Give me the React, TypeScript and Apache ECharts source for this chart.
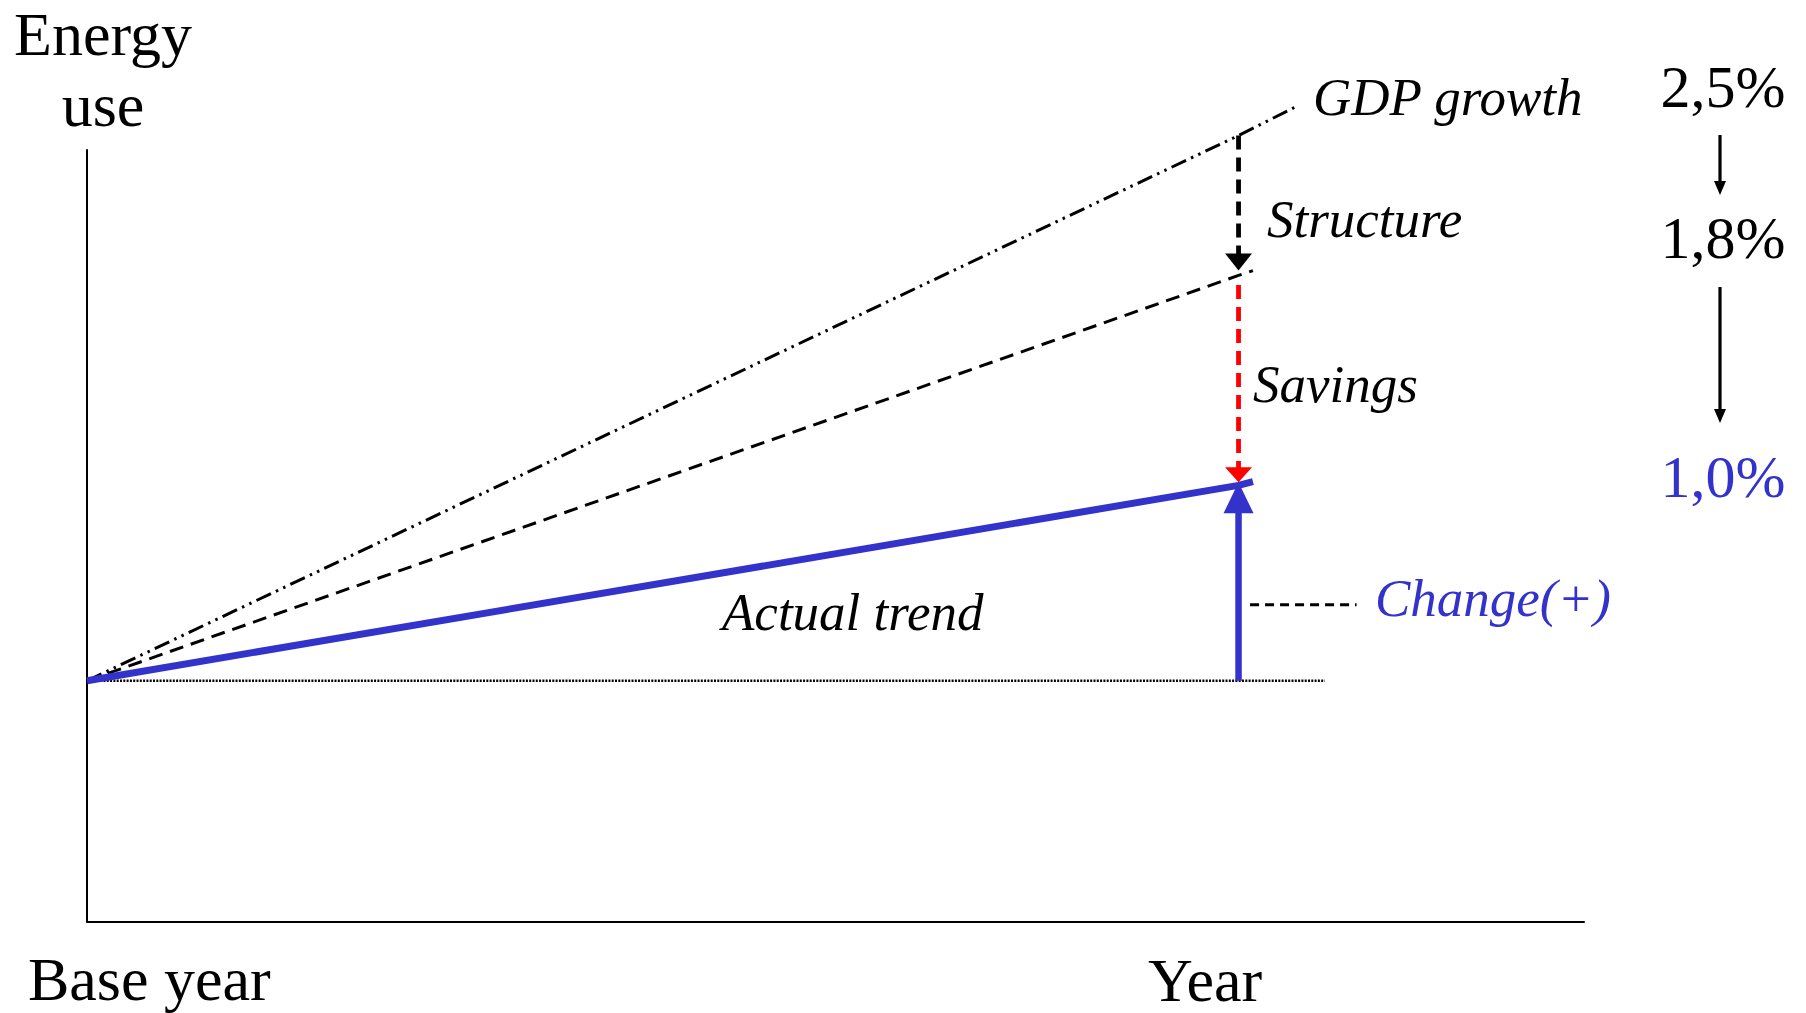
import React, { useEffect, useRef } from "react";
import * as echarts from "echarts";

// Horizontal scale: years after the base year; vertical scale: energy use index (base year = 100)
const baseYear = 0;
const targetYear = 20;
const axisMaxYear = 26;
const axisMaxEnergy = 320;
const baseEnergy = 100;

// Energy use index at the target year on each path
const gdpAtYear = 326;
const structureAtYear = 268;
const actualAtYear = 181;

// Each path is drawn a little past the target year
const gdpLine = [
  [baseYear, baseEnergy],
  [targetYear, gdpAtYear],
  [21, 338],
];
const structureLine = [
  [baseYear, baseEnergy],
  [targetYear, structureAtYear],
  [20.25, 270],
];
const actualLine = [
  [baseYear, baseEnergy],
  [targetYear, actualAtYear],
  [20.25, 182.5],
];
const baselineEnd = 21.5;
const changeLeaderEnd = 22.05;

// Annual growth rates of the three paths
const growthRates = [2.5, 1.8, 1.0];
const pathNames = ["GDP growth", "Structure", "Savings", "Actual trend", "Change(+)"];
const axisNames = ["Energy", "use", "Base year", "Year"];

const BLUE = "#3333CC";
const RED = "#FF0000";
const BLACK = "#000000";
const SERIF = '"Liberation Serif", "Times New Roman", Times, serif';

const fmtRate = (r: number) => r.toFixed(1).replace(".", ",") + "%";

export default function App() {
  const ref = useRef<HTMLDivElement>(null);

  useEffect(() => {
    if (!ref.current) return;
    const chart = echarts.init(ref.current, undefined, { renderer: "svg" });

    const plain = (x: number, y: number, text: string, size: number, color = BLACK, align = "left") => ({
      type: "text",
      x,
      y,
      style: {
        text,
        fill: color,
        font: `${size}px ${SERIF}`,
        align,
        verticalAlign: "middle",
        lineHeight: size,
      },
      z: 10,
    });
    const italic = (x: number, y: number, text: string, color = BLACK) => ({
      type: "text",
      x,
      y,
      style: {
        text,
        fill: color,
        font: `italic 53px ${SERIF}`,
        align: "left",
        verticalAlign: "middle",
      },
      z: 10,
    });

    // downward arrow between two rate figures
    const rateArrow = (x: number, y0: number, tip: number) => [
      {
        type: "line",
        shape: { x1: x, y1: y0, x2: x, y2: tip - 10 },
        style: { stroke: BLACK, lineWidth: 3.2 },
        z: 10,
      },
      {
        type: "polygon",
        shape: { points: [[x - 6, tip - 14], [x + 6, tip - 14], [x, tip]] },
        style: { fill: BLACK },
        z: 10,
      },
    ];

    const seg = (
      data: number[][],
      color: string,
      width: number,
      type: any = "solid",
      z = 2
    ) => ({
      type: "line",
      data,
      symbol: "none",
      showSymbol: false,
      clip: false,
      silent: true,
      z,
      lineStyle: { color, width, type, cap: "butt" },
    });

    const head = (
      point: number[],
      color: string,
      size: number[],
      down: boolean,
      offsetY: number,
      z = 5
    ) => ({
      type: "scatter",
      data: [point],
      symbol: "triangle",
      symbolSize: size,
      symbolRotate: down ? 180 : 0,
      symbolOffset: [0, offsetY],
      clip: false,
      silent: true,
      z,
      itemStyle: { color, opacity: 1 },
    });

    chart.setOption({
      animation: false,
      backgroundColor: "#ffffff",
      grid: { left: 87, top: 150, width: 1497, height: 772, containLabel: false },
      xAxis: {
        type: "value",
        min: 0,
        max: axisMaxYear,
        axisLine: { show: true, lineStyle: { color: BLACK, width: 2 } },
        axisTick: { show: false },
        axisLabel: { show: false },
        splitLine: { show: false },
      },
      yAxis: {
        type: "value",
        min: 0,
        max: axisMaxEnergy,
        axisLine: { show: true, lineStyle: { color: BLACK, width: 2 } },
        axisTick: { show: false },
        axisLabel: { show: false },
        splitLine: { show: false },
      },
      series: [
        // base-year level
        seg([[baseYear, baseEnergy], [baselineEnd, baseEnergy]], BLACK, 2.4, [2, 1.3], 1),
        // GDP growth path
        seg(gdpLine, BLACK, 3, [16, 5.5, 2.5, 5.5, 2.5, 5.5], 2),
        // structural path
        seg(structureLine, BLACK, 3, [14, 8], 2),
        // actual trend
        seg(actualLine, BLUE, 7, "solid", 3),
        // structure effect arrow
        seg([[targetYear, gdpAtYear], [targetYear, structureAtYear + 8]], BLACK, 4.8, [14, 8], 4),
        head([targetYear, structureAtYear], BLACK, [27, 17], true, -13.5),
        // savings arrow
        seg([[targetYear, structureAtYear - 4], [targetYear, actualAtYear + 6]], RED, 4.8, [14, 8], 4),
        head([targetYear, actualAtYear], RED, [27, 15], true, -10.5),
        // actual change arrow
        seg([[targetYear, baseEnergy], [targetYear, actualAtYear - 8]], BLUE, 6.5, "solid", 4),
        head([targetYear, actualAtYear], BLUE, [30, 31], false, 12.5),
        // leader to the change label
        seg([[20.2, 131.5], [changeLeaderEnd, 131.5]], BLACK, 2.8, [9, 6], 4),
      ],
      graphic: [
        plain(103, 34, axisNames[0], 62, BLACK, "center"),
        plain(103, 105, axisNames[1], 62, BLACK, "center"),
        plain(28, 979, axisNames[2], 62),
        plain(1148, 980, axisNames[3], 62),
        plain(1723, 87, fmtRate(growthRates[0]), 60, BLACK, "center"),
        plain(1723, 238, fmtRate(growthRates[1]), 60, BLACK, "center"),
        plain(1723, 477, fmtRate(growthRates[2]), 60, BLUE, "center"),
        italic(1313, 97, pathNames[0]),
        italic(1267, 219, pathNames[1]),
        italic(1253, 384, pathNames[2]),
        italic(722, 612, pathNames[3]),
        italic(1375, 598, pathNames[4], BLUE),
        ...rateArrow(1720, 135, 195),
        ...rateArrow(1720, 287, 423),
      ],
    });

    return () => chart.dispose();
  }, []);

  return (
    <div
      ref={ref}
      style={{ position: "fixed", left: 0, top: 0, width: 1806, height: 1013, background: "#fff" }}
    />
  );
}
